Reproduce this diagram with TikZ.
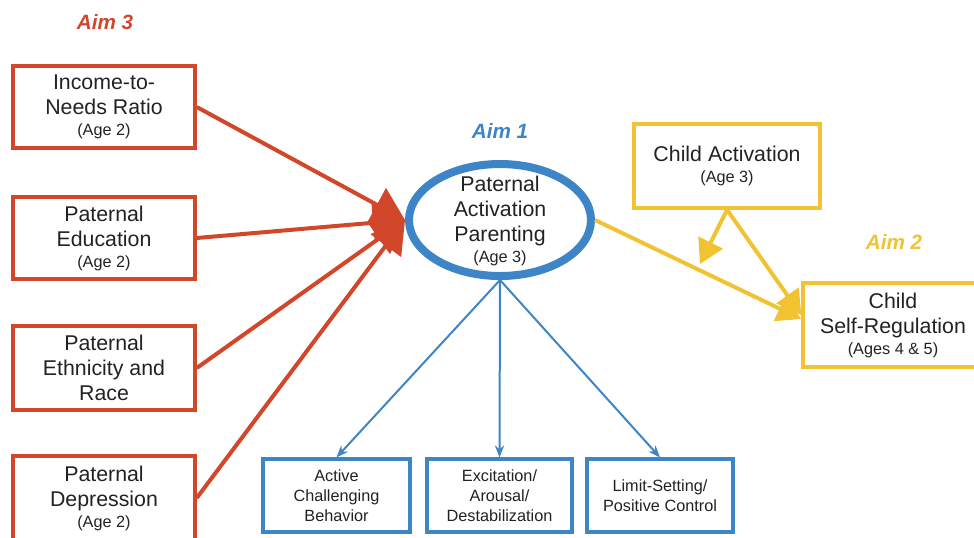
\documentclass[tikz,border=0pt]{standalone}
\usepackage{fontspec}
\setmainfont{Liberation Sans}
\usetikzlibrary{arrows.meta,shapes.geometric,calc}
\definecolor{aimred}{HTML}{D2462A}
\definecolor{aimblue}{HTML}{3D85C6}
\definecolor{aimyellow}{HTML}{F1C232}
\definecolor{txt}{HTML}{222222}
\newcommand\mytxtA{\fontsize{16}{18.75}\selectfont}
\newcommand\mytxtB{\fontsize{12.2}{16.5}\selectfont}
\newcommand\mytxtC{\fontsize{12.2}{15}\selectfont}
\begin{document}
\begin{tikzpicture}[x=0.75pt,y=-0.75pt,
  redbox/.style={draw=aimred, line width=2.6pt, minimum width=136.5pt, minimum height=61.5pt, align=center, text=txt, inner sep=0pt, font=\mytxtA},
  yelbox/.style={draw=aimyellow, line width=2.6pt, minimum width=139.5pt, minimum height=63pt, align=center, text=txt, inner sep=0pt, font=\mytxtA},
  bluebox/.style={draw=aimblue, line width=2.4pt, minimum width=109.5pt, minimum height=54.75pt, align=center, text=txt, inner sep=0pt, font=\mytxtC},
  aimlbl/.style={font=\fontsize{15.5}{18}\selectfont\bfseries\itshape},
  redarrow/.style={draw=aimred, line width=3pt, -{Triangle[length=24pt,width=28pt]}},
  yelarrow/.style={draw=aimyellow, line width=3pt, -{Triangle[length=18pt,width=20pt]}},
  bluearrow/.style={draw=aimblue, line width=1.5pt, -{Stealth[length=9pt,width=7pt]}}
]
\useasboundingbox (0,0) rectangle (974,537);
\clip (0,0) rectangle (974,537);

% Aim labels
\node[aimlbl, text=aimred] (aim3) at (105,22) {Aim 3};
\node[aimlbl, text=aimblue] (aim1) at (500,131) {Aim 1};
\node[aimlbl, text=aimyellow] (aim2) at (894,242) {Aim 2};

% Red boxes
\node[redbox] (b1) at (104,107) {Income-to-\\Needs Ratio\\[-3pt]{\mytxtB (Age 2)}};
\node[redbox] (b2) at (104,238) {Paternal\\Education\\[-3pt]{\mytxtB (Age 2)}};
\node[redbox, minimum height=63pt] (b3) at (104,368) {Paternal\\Ethnicity and\\Race};
\node[redbox, minimum height=63pt] (b4) at (104,498) {Paternal\\Depression\\[-3pt]{\mytxtB (Age 2)}};

% Ellipse
\node[ellipse, draw=aimblue, line width=6pt, minimum width=136.5pt, minimum height=84pt, inner sep=0pt] (P) at (500,220) {};
\node[align=center, text=txt, font=\mytxtA, inner sep=0pt] (Ptext) at (500,221) {Paternal\\Activation\\Parenting\\[-3pt]{\mytxtB (Age 3)}};

% Yellow boxes
\node[yelbox] (ca) at (727,166) {Child Activation\\[-3pt]{\mytxtB (Age 3)}};
\node[yelbox, minimum width=135pt] (sr) at (893,325) {Child\\Self-Regulation\\[-3pt]{\mytxtB (Ages 4 \& 5)}};

% Blue boxes
\node[bluebox, minimum width=110.25pt] (ba) at (336.5,495.5) {Active\\Challenging\\Behavior};
\node[bluebox, minimum width=108.75pt] (bb) at (499.5,495.5) {Excitation/\\Arousal/\\Destabilization};
\node[bluebox] (bc) at (660,495.5) {Limit-Setting/\\Positive Control};

% Red arrows
\draw[redarrow] (b1.east) -- (P.west);
\draw[redarrow] (b2.east) -- (P.west);
\draw[redarrow] (b3.east) -- (P.west);
\draw[redarrow] (b4.east) -- (P.west);

% Yellow arrows
\coordinate (m) at (700,264);
\draw[yelarrow] (P.east) -- ($(sr.west)+(0,-6)$);
\draw[yelarrow] (ca.south) -- ($(sr.west)+(0,-10)$);
\draw[yelarrow] (ca.south) -- (m);

% Blue arrows
\draw[bluearrow] (P.south) -- (ba.north);
\draw[bluearrow] (P.south) -- (bb.north);
\draw[bluearrow] (P.south) -- (bc.north);
\end{tikzpicture}
\end{document}
